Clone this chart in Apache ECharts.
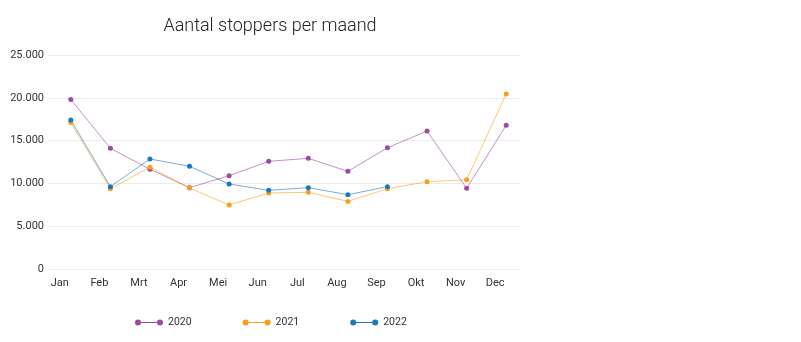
<!DOCTYPE html>
<html>
<head>
<meta charset="utf-8">
<script src="https://cdn.jsdelivr.net/npm/echarts@6/dist/echarts.min.js"></script>
<style>html,body{margin:0;padding:0;background:#fff}#c{width:801px;height:342px}</style>
</head>
<body>
<div id="c"></div>
<script>
var months = ['Jan','Feb','Mrt','Apr','Mei','Jun','Jul','Aug','Sep','Okt','Nov','Dec'];
var y2020 = [19800, 14100, 11650, 9500, 10900, 12580, 12930, 11410, 14170, 16120, 9430, 16780];
var y2021 = [17100, 9380, 11900, 9460, 7480, 8880, 8960, 7900, 9380, 10200, 10430, 20440];
var y2022 = [17400, 9620, 12850, 12000, 9930, 9190, 9500, 8680, 9620, null, null, null];
var seriesNames = ['2020','2021','2022'];
var colors = ['#9c4a9e', '#f9a01b', '#1a78c0'];

var chart = echarts.init(document.getElementById('c'), null, {renderer: 'canvas'});
var font = 'Roboto, "Noto Sans", sans-serif';
var legendIcon = 'path://M0,3a3,3 0 1,1 6,0a3,3 0 1,1 -6,0zM22,3a3,3 0 1,1 6,0a3,3 0 1,1 -6,0zM6,2.6h16v0.8h-16z';
function fmt(v){ return String(v).replace(/\B(?=(\d{3})+(?!\d))/g, '.'); }
var allSeries = [y2020, y2021, y2022].map(function(d, i){
  return {
    name: seriesNames[i], type: 'line', data: d, xAxisIndex: 1, yAxisIndex: 1,
    symbol: 'circle', symbolSize: 5, showSymbol: true,
    itemStyle: {color: colors[i]},
    lineStyle: {color: colors[i], width: 1, opacity: 0.6},
    emphasis: {disabled: true}, animation: false
  };
});
chart.setOption({
  animation: false,
  color: colors,
  title: {
    text: 'Aantal stoppers per maand', left: 265, top: 12, textAlign: 'center',
    textStyle: {fontFamily: font, fontSize: 18, fontWeight: 300, color: '#222'}
  },
  legend: {
    left: 130, top: 312, itemGap: 51, itemWidth: 28, itemHeight: 6, icon: legendIcon,
    textStyle: {fontFamily: font, fontSize: 10.5, color: '#333'},
    data: seriesNames
  },
  grid: [
    {left: 48, right: 281, top: 55, bottom: 73},
    {left: 51, right: 275, top: 55, bottom: 73}
  ],
  xAxis: [
    {type: 'category', gridIndex: 0, data: months, show: false},
    {type: 'category', gridIndex: 1, data: months, boundaryGap: true,
     axisLine: {show: false}, axisTick: {show: false}, splitLine: {show: false},
     axisLabel: {fontFamily: font, fontSize: 11, color: '#333', margin: 9, padding: [0, 22, 0, 0]}}
  ],
  yAxis: [
    {type: 'value', gridIndex: 0, min: 0, max: 25000, interval: 5000,
     axisLine: {show: false}, axisTick: {show: false},
     splitLine: {lineStyle: {color: '#ececec', width: 1}},
     axisLabel: {fontFamily: font, fontSize: 11, color: '#333', margin: 4, formatter: fmt}},
    {type: 'value', gridIndex: 1, min: 0, max: 25000, interval: 5000, show: false, splitLine: {show: false}}
  ],
  series: allSeries
});
</script>
</body>
</html>
